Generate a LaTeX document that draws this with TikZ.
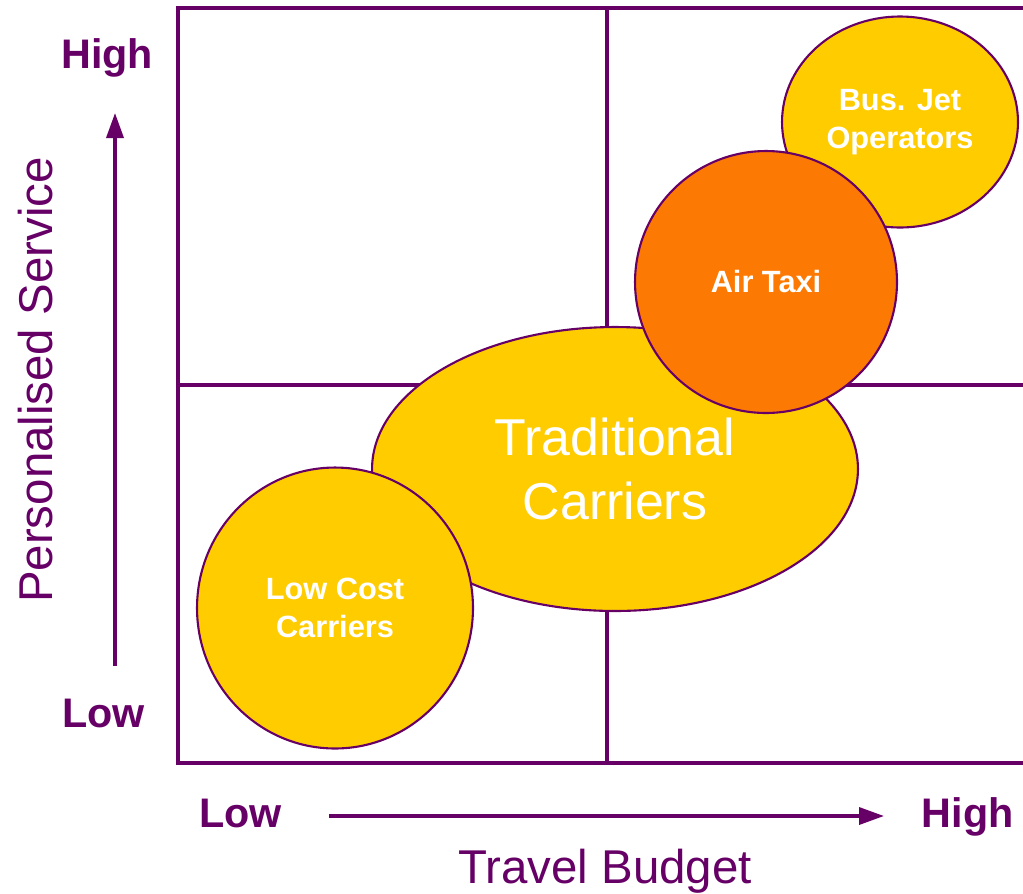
\documentclass[tikz,border=0pt]{standalone}
\usepackage{fontspec}
\setmainfont{Liberation Sans}
\usetikzlibrary{positioning,shapes.geometric,arrows.meta}
\definecolor{plum}{RGB}{102,0,102}
\definecolor{gold}{RGB}{255,204,0}
\definecolor{tangerine}{RGB}{252,122,4}

\begin{document}
\begin{tikzpicture}[x=0.02cm,y=-0.02cm,
		frameline/.style={draw=plum,line width=2.2pt},
		bubble/.style={ellipse,draw=plum,line width=1.2pt,fill=gold,text=white,align=center,inner sep=0pt,font=\bfseries\fontsize{17.5}{21.5}\selectfont},
		axisarrow/.style={draw=plum,line width=2pt,-{Triangle[length=0.5cm,width=0.34cm]}},
		ticklabel/.style={text=plum,inner sep=0pt,font=\bfseries\fontsize{23.5}{28}\selectfont},
		axistitle/.style={text=plum,inner sep=0pt,font=\fontsize{27}{32}\selectfont}]
		\useasboundingbox (0,0) rectangle (1023,893);

		\coordinate (tl) at (178,8);
		\coordinate (tr) at (1030,8);
		\coordinate (bl) at (178,763);
		\coordinate (br) at (1030,763);
		\coordinate (mt) at (607,8);
		\coordinate (mb) at (607,763);
		\coordinate (ml) at (178,385);
		\coordinate (mr) at (1030,385);

		\draw[frameline] (tr) -- (tl) -- (bl) -- (br);
		\draw[frameline] (mt) -- (mb);
		\draw[frameline] (ml) -- (mr);

		\node[bubble,minimum width=9.72cm,minimum height=5.68cm,font=\fontsize{29.5}{36}\selectfont]	(trad)		at (615,469)	{Traditional\\Carriers};
		\node[bubble,minimum width=5.52cm,minimum height=5.62cm]										(lowcost)	at (335,608)	{Low Cost\\Carriers};
		\node[bubble,minimum width=4.72cm,minimum height=4.22cm]										(busjet)	at (900,122)	{Bus. Jet\\Operators};
		\node[bubble,minimum width=5.24cm,minimum height=5.24cm,fill=tangerine]							(airtaxi)	at (766,282)	{Air Taxi};

		\coordinate (vlow) at (115,666);
		\coordinate (vhigh) at (115,113);
		\coordinate (hlow) at (329,816);
		\coordinate (hhigh) at (884,816);

		\draw[axisarrow] (vlow) -- (vhigh);
		\draw[axisarrow] (hlow) -- (hhigh);

		\node[ticklabel,anchor=base west]	(yhigh)		at (61,68)		{High};
		\node[ticklabel,anchor=base west]	(ylow)		at (62,727)		{Low};
		\node[ticklabel,anchor=base west]	(xlow)		at (199,827)	{Low};
		\node[ticklabel,anchor=base east]	(xhigh)		at (1014,827)	{High};
		\node[axistitle,anchor=base]		(xtitle)	at (605,883)	{Travel Budget};
		\node[axistitle,anchor=base,rotate=90]	(ytitle)	at (52,380)		{Personalised Service};
	\end{tikzpicture}
\end{document}
